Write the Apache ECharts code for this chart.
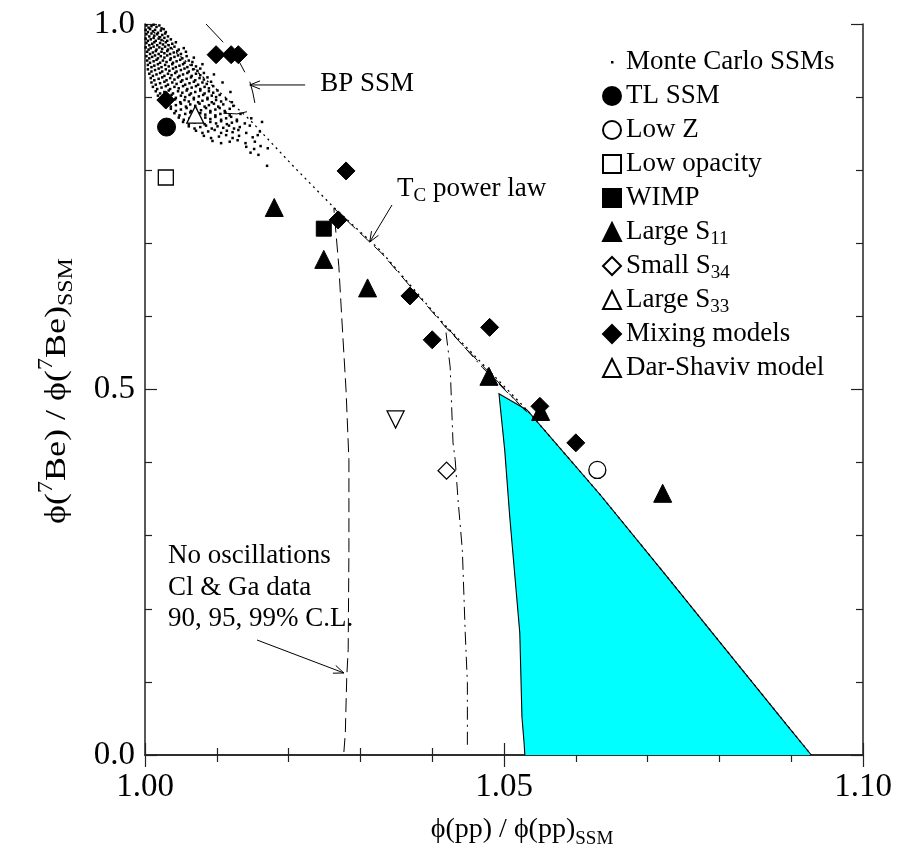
<!DOCTYPE html>
<html>
<head>
<meta charset="utf-8">
<script src="https://cdn.jsdelivr.net/npm/echarts/dist/echarts.min.js"></script>
<style>
  html, body { margin: 0; padding: 0; background: #ffffff; }
  #chart { width: 903px; height: 864px; }
</style>
</head>
<body>
<div id="chart"></div>
<script>
// ---- axis ranges and tick labels ----
const xRange = [1.00, 1.10];
const yRange = [0.0, 1.0];
const xTickLabels = ['1.00', '1.05', '1.10'];
const yTickLabels = ['0.0', '0.5', '1.0'];

// ---- solar model points: [phi(pp)/phi(pp)_SSM, phi(7Be)/phi(7Be)_SSM] ----
const tlSSM = [[1.0030, 0.859]];
const lowZ = [[1.0630, 0.390]];
const lowOpacity = [[1.0029, 0.790]];
const wimp = [[1.0249, 0.720]];
const largeS11 = [[1.0180, 0.749], [1.0249, 0.678], [1.0310, 0.639], [1.0479, 0.518], [1.0551, 0.470], [1.0721, 0.358]];
const smallS34 = [[1.0420, 0.389]];
const largeS33 = [[1.0349, 0.459]];
const mixingModels = [[1.0099, 0.958], [1.0120, 0.958], [1.0130, 0.958], [1.0029, 0.896], [1.0280, 0.799],
  [1.0269, 0.732], [1.0369, 0.628], [1.0400, 0.568], [1.0480, 0.585], [1.0550, 0.477], [1.0600, 0.427]];
const darShaviv = [[1.0070, 0.876]];

// ---- Monte Carlo standard solar models ----
const monteCarlo = [
  [1.0002,0.998],[1.0005,0.995],[1.0009,0.997],[1.0012,0.999],[1.0016,0.996],[1.0020,0.998],[1.0023,0.994],
  [1.0001,0.992],[1.0004,0.989],[1.0007,0.993],[1.0011,0.990],[1.0014,0.992],[1.0018,0.988],[1.0022,0.991],[1.0026,0.993],[1.0029,0.989],
  [1.0002,0.986],[1.0006,0.983],[1.0009,0.987],[1.0013,0.984],[1.0017,0.986],[1.0021,0.982],[1.0024,0.985],[1.0028,0.987],[1.0032,0.983],
  [1.0001,0.980],[1.0004,0.977],[1.0008,0.979],[1.0012,0.981],[1.0015,0.977],[1.0019,0.980],[1.0023,0.978],[1.0027,0.981],[1.0031,0.977],[1.0036,0.979],
  [1.0002,0.974],[1.0006,0.971],[1.0010,0.973],[1.0013,0.975],[1.0017,0.971],[1.0021,0.974],[1.0025,0.972],[1.0029,0.975],[1.0033,0.971],[1.0038,0.973],[1.0043,0.975],
  [1.0001,0.968],[1.0005,0.965],[1.0008,0.967],[1.0012,0.969],[1.0016,0.965],[1.0020,0.968],[1.0024,0.966],[1.0028,0.969],[1.0032,0.965],[1.0036,0.967],[1.0041,0.969],[1.0047,0.965],[1.0054,0.967],
  [1.0003,0.962],[1.0007,0.959],[1.0011,0.961],[1.0015,0.963],[1.0019,0.959],[1.0023,0.962],[1.0027,0.960],[1.0031,0.963],[1.0035,0.959],[1.0040,0.961],[1.0045,0.963],[1.0050,0.959],[1.0057,0.962],
  [1.0002,0.956],[1.0006,0.953],[1.0010,0.955],[1.0014,0.957],[1.0018,0.953],[1.0022,0.956],[1.0027,0.954],[1.0031,0.957],[1.0036,0.953],[1.0041,0.955],[1.0046,0.957],[1.0052,0.953],[1.0058,0.956],[1.0068,0.954],
  [1.0003,0.950],[1.0007,0.947],[1.0012,0.949],[1.0016,0.951],[1.0021,0.947],[1.0025,0.950],[1.0030,0.948],[1.0035,0.951],[1.0039,0.947],[1.0044,0.949],[1.0049,0.951],[1.0055,0.947],[1.0061,0.950],[1.0066,0.948],
  [1.0004,0.944],[1.0009,0.941],[1.0013,0.943],[1.0018,0.945],[1.0023,0.941],[1.0028,0.944],[1.0033,0.942],[1.0038,0.945],[1.0043,0.941],[1.0048,0.943],[1.0053,0.945],[1.0059,0.941],[1.0065,0.944],[1.0071,0.942],[1.0080,0.945],
  [1.0004,0.938],[1.0009,0.935],[1.0014,0.937],[1.0019,0.939],[1.0024,0.935],[1.0029,0.938],[1.0034,0.936],[1.0039,0.939],[1.0044,0.935],[1.0050,0.937],[1.0055,0.939],[1.0061,0.935],[1.0067,0.938],[1.0073,0.936],[1.0077,0.939],
  [1.0006,0.932],[1.0011,0.929],[1.0016,0.931],[1.0021,0.933],[1.0027,0.929],[1.0032,0.932],[1.0037,0.930],[1.0042,0.933],[1.0048,0.929],[1.0053,0.931],[1.0059,0.933],[1.0065,0.929],[1.0071,0.932],[1.0077,0.930],[1.0082,0.933],[1.0096,0.931],
  [1.0008,0.926],[1.0013,0.923],[1.0019,0.925],[1.0024,0.927],[1.0030,0.923],[1.0035,0.926],[1.0041,0.924],[1.0046,0.927],[1.0052,0.923],[1.0058,0.925],[1.0064,0.927],[1.0070,0.923],[1.0076,0.926],[1.0082,0.924],[1.0087,0.927],
  [1.0009,0.920],[1.0015,0.917],[1.0021,0.919],[1.0027,0.921],[1.0032,0.917],[1.0038,0.920],[1.0044,0.918],[1.0050,0.921],[1.0056,0.917],[1.0062,0.919],[1.0068,0.921],[1.0074,0.917],[1.0080,0.920],[1.0086,0.918],[1.0092,0.921],[1.0108,0.920],
  [1.0011,0.914],[1.0017,0.911],[1.0023,0.913],[1.0029,0.915],[1.0035,0.911],[1.0041,0.914],[1.0047,0.912],[1.0053,0.915],[1.0059,0.911],[1.0065,0.913],[1.0071,0.915],[1.0077,0.911],[1.0083,0.914],[1.0089,0.912],[1.0095,0.915],
  [1.0015,0.908],[1.0021,0.905],[1.0027,0.907],[1.0033,0.909],[1.0039,0.905],[1.0046,0.908],[1.0052,0.906],[1.0058,0.909],[1.0064,0.905],[1.0070,0.907],[1.0077,0.909],[1.0083,0.905],[1.0089,0.908],[1.0095,0.906],[1.0101,0.909],[1.0119,0.907],
  [1.0018,0.902],[1.0024,0.899],[1.0031,0.901],[1.0037,0.903],[1.0043,0.899],[1.0050,0.902],[1.0056,0.900],[1.0062,0.903],[1.0068,0.899],[1.0075,0.901],[1.0081,0.903],[1.0087,0.899],[1.0093,0.902],[1.0099,0.900],[1.0104,0.903],
  [1.0022,0.896],[1.0029,0.893],[1.0036,0.895],[1.0042,0.897],[1.0049,0.893],[1.0055,0.896],[1.0061,0.894],[1.0068,0.897],[1.0074,0.893],[1.0080,0.895],[1.0087,0.897],[1.0093,0.893],[1.0099,0.896],[1.0106,0.894],[1.0113,0.897],[1.0121,0.893],
  [1.0029,0.890],[1.0036,0.887],[1.0043,0.889],[1.0050,0.891],[1.0057,0.887],[1.0063,0.890],[1.0070,0.888],[1.0076,0.891],[1.0083,0.887],[1.0089,0.889],[1.0096,0.891],[1.0102,0.887],[1.0109,0.890],[1.0123,0.888],
  [1.0036,0.884],[1.0043,0.881],[1.0050,0.883],[1.0058,0.885],[1.0064,0.881],[1.0071,0.884],[1.0078,0.882],[1.0085,0.885],[1.0091,0.881],[1.0098,0.883],[1.0104,0.885],[1.0111,0.881],[1.0118,0.884],
  [1.0041,0.878],[1.0048,0.875],[1.0056,0.877],[1.0063,0.879],[1.0070,0.875],[1.0077,0.878],[1.0084,0.876],[1.0091,0.879],[1.0098,0.875],[1.0105,0.877],[1.0112,0.879],[1.0118,0.875],[1.0133,0.877],
  [1.0047,0.872],[1.0054,0.869],[1.0062,0.871],[1.0069,0.873],[1.0076,0.869],[1.0084,0.872],[1.0091,0.870],[1.0098,0.873],[1.0106,0.869],[1.0113,0.871],[1.0120,0.873],[1.0128,0.869],[1.0148,0.871],
  [1.0053,0.866],[1.0061,0.863],[1.0069,0.865],[1.0076,0.867],[1.0083,0.863],[1.0091,0.866],[1.0099,0.864],[1.0106,0.867],[1.0114,0.863],[1.0121,0.865],[1.0128,0.867],[1.0139,0.864],[1.0163,0.866],
  [1.0061,0.860],[1.0069,0.857],[1.0077,0.859],[1.0085,0.861],[1.0093,0.857],[1.0101,0.860],[1.0109,0.858],[1.0117,0.861],[1.0124,0.857],[1.0132,0.859],[1.0146,0.861],
  [1.0071,0.854],[1.0080,0.851],[1.0088,0.853],[1.0097,0.855],[1.0106,0.851],[1.0114,0.854],[1.0122,0.852],[1.0130,0.855],[1.0141,0.851],[1.0160,0.853],
  [1.0082,0.847],[1.0092,0.844],[1.0103,0.846],[1.0113,0.848],[1.0122,0.844],[1.0131,0.847],[1.0150,0.845],[1.0157,0.848],
  [1.0094,0.840],[1.0106,0.837],[1.0118,0.839],[1.0129,0.841],[1.0140,0.837],[1.0153,0.839],
  [1.0141,0.832],[1.0152,0.829],[1.0161,0.833],[1.0171,0.830],[1.0147,0.824],[1.0158,0.821],[1.0170,0.806]
];

// ---- T_C power law track ----
const powerLaw = [[1.0000, 1.000], [1.0146, 0.869], [1.0208, 0.804], [1.0262, 0.750], [1.0327, 0.691],
  [1.0415, 0.591], [1.0532, 0.472], [1.0634, 0.356], [1.0727, 0.244], [1.0791, 0.166], [1.0847, 0.098],
  [1.0894, 0.041], [1.0928, 0.000]];

// ---- Cl & Ga contours (no oscillations) ----
const contour90 = [[1.0277, 0.004], [1.0279, 0.030], [1.0281, 0.107], [1.0283, 0.144], [1.0284, 0.280],
  [1.0284, 0.404], [1.0280, 0.499], [1.0274, 0.599], [1.0270, 0.668], [1.0263, 0.748], [1.0330, 0.686],
  [1.0417, 0.587], [1.0532, 0.469]];
const contour95 = [[1.0449, 0.014], [1.0449, 0.099], [1.0446, 0.167], [1.0442, 0.280], [1.0436, 0.349],
  [1.0432, 0.404], [1.0429, 0.427], [1.0425, 0.531], [1.0418, 0.588], [1.0470, 0.530], [1.0532, 0.469]];
const contour99 = [[1.0493, 0.494], [1.0532, 0.472], [1.0634, 0.356], [1.0727, 0.244], [1.0791, 0.166],
  [1.0847, 0.098], [1.0894, 0.041], [1.0928, 0.000], [1.0529, 0.000], [1.0528, 0.016], [1.0525, 0.052],
  [1.0522, 0.167], [1.0508, 0.326], [1.0501, 0.417]];

// ---- visible pieces of the BP SSM error contour ----
const bpContourPieces = [
  [[1.0085, 1.000], [1.0109, 0.975]],
  [[1.0132, 0.947], [1.0139, 0.934]],
  [[1.0146, 0.921], [1.0150, 0.907], [1.0153, 0.892]],
  [[1.0142, 0.880], [1.0128, 0.877], [1.0109, 0.878]]
];

// ---- annotations: arrows [x0, y0, x1, y1] and texts [x, y] ----
const arrows = [[1.0223, 0.9166, 1.0146, 0.9166], [1.0344, 0.7524, 1.0313, 0.7018], [1.0156, 0.1573, 1.0277, 0.1122]];
const notePositions = [[1.0244, 0.918], [1.0351, 0.775], [1.0032, 0.272], [1.0032, 0.229], [1.0032, 0.186]];
const noteTexts = ['BP SSM', '{a|T}{sub|C}{a| power law}', 'No oscillations', 'Cl & Ga data', '90, 95, 99% C.L.'];

const SERIF = '"Liberation Serif", "Times New Roman", serif';
const FS = 27;
const LH = 34;
const richText = {
  a: { fontFamily: SERIF, fontSize: FS, fill: '#000', color: '#000', lineHeight: LH },
  sub: { fontFamily: SERIF, fontSize: 19, fill: '#000', color: '#000', lineHeight: LH, verticalAlign: 'bottom' },
  sup: { fontFamily: SERIF, fontSize: 19, fill: '#000', color: '#000', lineHeight: LH, verticalAlign: 'top' }
};

const legendLabels = {
  'Monte Carlo SSMs': 'Monte Carlo SSMs',
  'TL SSM': 'TL SSM',
  'Low Z': 'Low Z',
  'Low opacity': 'Low opacity',
  'WIMP': 'WIMP',
  'Large S11': '{a|Large S}{sub|11}',
  'Small S34': '{a|Small S}{sub|34}',
  'Large S33': '{a|Large S}{sub|33}',
  'Mixing models': 'Mixing models',
  'Dar-Shaviv model': 'Dar-Shaviv model'
};

const filled = { color: '#000', borderColor: '#000', borderWidth: 1, opacity: 1 };
const hollow = { color: '#fff', borderColor: '#000', borderWidth: 1.3, opacity: 1 };

function markerSeries(name, data, symbol, size, style, extra) {
  return Object.assign({
    name, type: 'scatter', data, symbol, symbolSize: size,
    itemStyle: style, z: 5, silent: true
  }, extra || {});
}

function lineSeries(data, dash, z, width) {
  return {
    type: 'line', data, showSymbol: false, symbol: 'none', silent: true, z: z || 3,
    lineStyle: { color: '#000', width: width || 1, type: dash, opacity: 1 }
  };
}

const chart = echarts.init(document.getElementById('chart'), null, { renderer: 'canvas' });

const axisLine = { show: true, lineStyle: { color: '#222', width: 1.5 } };
const tickStyle = { color: '#222', width: 1.2 };

const option = {
  animation: false,
  backgroundColor: '#fff',
  grid: { left: 145, right: 40, top: 24, bottom: 109, containLabel: false, outerBoundsMode: 'none' },
  xAxis: [
    {
      type: 'value', min: xRange[0], max: xRange[1], interval: 0.05, position: 'bottom',
      axisLine, splitLine: { show: false },
      axisTick: { inside: true, length: 12, lineStyle: tickStyle },
      minorTick: { show: true, splitNumber: 5, length: 7, lineStyle: tickStyle },
      axisLabel: {
        margin: 16, color: '#000', fontFamily: SERIF, fontSize: 33,
        formatter: v => xTickLabels[Math.round((v - xRange[0]) / 0.05)]
      }
    },
    {
      type: 'value', min: xRange[0], max: xRange[1], interval: 0.05, position: 'top',
      axisLine, splitLine: { show: false }, axisLabel: { show: false },
      axisTick: { inside: true, length: 12, lineStyle: tickStyle },
      minorTick: { show: true, splitNumber: 5, length: 7, lineStyle: tickStyle }
    }
  ],
  yAxis: [
    {
      type: 'value', min: yRange[0], max: yRange[1], interval: 0.5, position: 'left',
      axisLine, splitLine: { show: false },
      axisTick: { inside: true, length: 12, lineStyle: tickStyle },
      minorTick: { show: true, splitNumber: 5, length: 7, lineStyle: tickStyle },
      axisLabel: {
        margin: 10, color: '#000', fontFamily: SERIF, fontSize: 33,
        formatter: v => yTickLabels[Math.round(v / 0.5)]
      }
    },
    {
      type: 'value', min: yRange[0], max: yRange[1], interval: 0.5, position: 'right',
      axisLine, splitLine: { show: false }, axisLabel: { show: false },
      axisTick: { inside: true, length: 12, lineStyle: tickStyle },
      minorTick: { show: true, splitNumber: 5, length: 7, lineStyle: tickStyle }
    }
  ],
  legend: {
    orient: 'vertical', left: 597, top: 40, padding: 5, itemWidth: 18, itemHeight: 18, itemGap: 0,
    selectedMode: false,
    textStyle: { fontFamily: SERIF, fontSize: FS, color: '#000', lineHeight: LH, rich: richText },
    formatter: name => legendLabels[name],
    data: [
      { name: 'Monte Carlo SSMs', icon: 'path://M0,0M8,8L10.5,8L10.5,10.5L8,10.5ZM18,18' },
      'TL SSM', 'Low Z', 'Low opacity', 'WIMP', 'Large S11', 'Small S34', 'Large S33',
      'Mixing models', 'Dar-Shaviv model'
    ]
  },
  series: [
    // 99% C.L. allowed region
    {
      type: 'custom', silent: true, z: 1, data: contour99,
      renderItem: (params, api) => {
        if (params.dataIndex !== 0) return null;
        const pts = contour99.map(p => api.coord(p));
        // outline everything except the segment lying on the x axis
        const bottomStart = 7;
        const outline = pts.slice(bottomStart + 1).concat([pts[0]]).concat(pts.slice(0, bottomStart + 1));
        return {
          type: 'group', children: [
            { type: 'polygon', shape: { points: pts }, style: { fill: '#00ffff', stroke: null } },
            { type: 'polyline', shape: { points: outline }, style: { stroke: '#000', lineWidth: 1.1, fill: null } }
          ]
        };
      }
    },
    lineSeries(powerLaw, [2, 4], 2, 1.3),
    lineSeries(contour90, [14, 6], 3),
    lineSeries(contour95, [13, 5, 2, 5], 3),
    ...bpContourPieces.map(piece => lineSeries(piece, 'solid', 3)),
    {
      name: 'Monte Carlo SSMs', type: 'scatter', data: monteCarlo, symbol: 'rect', symbolSize: 2.5,
      itemStyle: { color: '#000', opacity: 1 }, z: 4, silent: true, large: false
    },
    markerSeries('TL SSM', tlSSM, 'circle', 18, filled),
    markerSeries('Low Z', lowZ, 'circle', 17, hollow),
    markerSeries('Low opacity', lowOpacity, 'rect', 15, hollow),
    markerSeries('WIMP', wimp, 'rect', 15, filled),
    markerSeries('Large S11', largeS11, 'triangle', 18, filled),
    markerSeries('Small S34', smallS34, 'diamond', 17, hollow),
    markerSeries('Large S33', largeS33, 'triangle', 17, hollow, { symbolRotate: 180 }),
    markerSeries('Mixing models', mixingModels, 'diamond', 18, filled),
    markerSeries('Dar-Shaviv model', darShaviv, 'triangle', 17, hollow),
    // arrows
    {
      type: 'custom', silent: true, z: 6, data: arrows,
      renderItem: (params, api) => {
        const p0 = api.coord([api.value(0), api.value(1)]);
        const p1 = api.coord([api.value(2), api.value(3)]);
        const ang = Math.atan2(p1[1] - p0[1], p1[0] - p0[0]);
        const L = 11, a = 0.38;
        const h1 = [p1[0] - L * Math.cos(ang - a), p1[1] - L * Math.sin(ang - a)];
        const h2 = [p1[0] - L * Math.cos(ang + a), p1[1] - L * Math.sin(ang + a)];
        return {
          type: 'group', children: [
            { type: 'line', shape: { x1: p0[0], y1: p0[1], x2: p1[0], y2: p1[1] }, style: { stroke: '#000', lineWidth: 1 } },
            { type: 'polyline', shape: { points: [h1, p1, h2] }, style: { stroke: '#000', lineWidth: 1, fill: null } }
          ]
        };
      }
    },
    // annotation texts
    {
      type: 'custom', silent: true, z: 6, data: notePositions,
      renderItem: (params, api) => {
        const p = api.coord([api.value(0), api.value(1)]);
        return {
          type: 'text', x: p[0], y: p[1],
          style: {
            text: noteTexts[params.dataIndex], rich: richText,
            fontFamily: SERIF, fontSize: FS, fill: '#000', align: 'left', verticalAlign: 'middle'
          }
        };
      }
    }
  ],
  graphic: [
    {
      type: 'text', x: 522, y: 830,
      style: {
        text: '{a|ϕ(pp) / ϕ(pp)}{sub|SSM}', align: 'center', verticalAlign: 'middle',
        rich: {
          a: { fontFamily: SERIF, fontSize: 28, fill: '#000', lineHeight: 38 },
          sub: { fontFamily: SERIF, fontSize: 19, fill: '#000', lineHeight: 38, verticalAlign: 'bottom' }
        }
      }
    },
    {
      type: 'text', x: 57, y: 391, rotation: Math.PI / 2, scaleX: 1.2,
      style: {
        text: '{a|ϕ(}{sup|7}{a|Be) / ϕ(}{sup|7}{a|Be)}{sub|SSM}', align: 'center', verticalAlign: 'middle',
        rich: {
          a: { fontFamily: SERIF, fontSize: 30, fill: '#000', lineHeight: 40 },
          sup: { fontFamily: SERIF, fontSize: 20, fill: '#000', lineHeight: 40, verticalAlign: 'top' },
          sub: { fontFamily: SERIF, fontSize: 20, fill: '#000', lineHeight: 40, verticalAlign: 'bottom' }
        }
      }
    }
  ]
};

chart.setOption(option);
</script>
</body>
</html>
